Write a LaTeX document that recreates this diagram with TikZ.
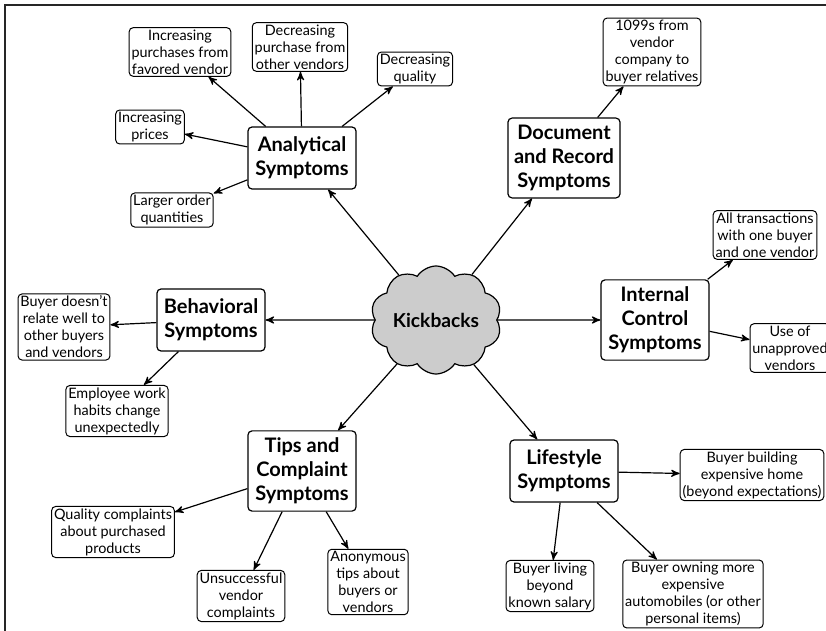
\documentclass[tikz,border=0pt]{standalone}
\usepackage{fontspec}
\setmainfont{Lato}
\usetikzlibrary{shapes, arrows}

\begin{document}
\begin{tikzpicture}[x=0.5pt, y=-0.5pt,
sym/.style = {% symptom groups
    draw, rounded corners=2pt, align=center, fill=white,
    font=\fontsize{10}{12}\selectfont\bfseries,
    minimum width=54pt, minimum height=31pt,
    inner xsep=3pt, inner ysep=3.5pt, line width=0.6pt,
            },
itm/.style = {% single symptoms
    draw, rounded corners=2pt, align=center, fill=white,
    font=\fontsize{7.2}{8.5}\selectfont,
    inner xsep=1.2pt, inner ysep=1pt, line width=0.5pt,
            },
arr/.style = {->, >=stealth', line width=0.6pt},
                        ]
\useasboundingbox (0,0) rectangle (826,631);
% frame
\draw[line width=0.8pt, black!85] (5,640) -- (5,5) -- (840,5);
% centre
\node[cloud, draw, fill=gray!40, cloud puffs=10, cloud puff arc=115,
      aspect=1.35, minimum width=62pt, minimum height=54pt, inner sep=0pt,
      line width=0.6pt, font=\fontsize{9.6}{12}\selectfont\bfseries]
      (kick) at (436,320) {Kickbacks};
% symptom groups
\node[sym] (ana)  at (302,158) {Analytical\\Symptoms};
\node[sym] (doc)  at (564,158) {Document\\and Record\\Symptoms};
\node[sym] (ctl)  at (655,320) {Internal\\Control\\Symptoms};
\node[sym] (beh)  at (211,320) {Behavioral\\Symptoms};
\node[sym] (tip)  at (302,471) {Tips and\\Complaint\\Symptoms};
\node[sym] (life) at (564,471) {Lifestyle\\Symptoms};
% analytical
\node[itm] (a1) at (180,52)  {Increasing\\purchases from\\favored vendor};
\node[itm] (a2) at (300,47)  {Decreasing\\purchase from\\other vendors};
\node[itm] (a3) at (415,69)  {Decreasing\\quality};
\node[itm] (a4) at (150,127) {Increasing\\prices};
\node[itm] (a5) at (172,210) {Larger order\\quantities};
% document
\node[itm] (d1) at (652,52)  {1099s from\\vendor\\company to\\buyer relatives};
% internal control
\node[itm] (c1) at (765,235) {All transactions\\with one buyer\\and one vendor};
\node[itm] (c2) at (790,348) {Use of\\unapproved\\vendors};
% behavioral
\node[itm] (b1) at (64,327)  {Buyer doesn't\\relate well to\\other buyers\\and vendors};
\node[itm] (b2) at (117,411) {Employee work\\habits change\\unexpectedly};
% tips
\node[itm] (t1) at (113,532) {Quality complaints\\about purchased\\products};
\node[itm] (t2) at (241,596) {Unsuccessful\\vendor\\complaints};
\node[itm] (t3) at (368,582) {Anonymous\\tips about\\buyers or\\vendors};
% lifestyle
\node[itm] (l1) at (752,475) {Buyer building\\expensive home\\(beyond expectations)};
\node[itm] (l2) at (550,586) {Buyer living\\beyond\\known salary};
\node[itm] (l3) at (693,594) {Buyer owning more\\expensive\\automobiles (or other\\personal items)};
% arrows
\foreach \g in {ana, doc, ctl, beh, tip, life}
    \draw[arr] (kick) -- (\g);
\foreach \s in {a1, a2, a3, a4, a5}
    \draw[arr] (ana) -- (\s);
\draw[arr] (doc) -- (d1);
\foreach \s in {c1, c2}
    \draw[arr] (ctl) -- (\s);
\foreach \s in {b1, b2}
    \draw[arr] (beh) -- (\s);
\foreach \s in {t1, t2, t3}
    \draw[arr] (tip) -- (\s);
\foreach \s in {l1, l2, l3}
    \draw[arr] (life) -- (\s);
\end{tikzpicture}
\end{document}
